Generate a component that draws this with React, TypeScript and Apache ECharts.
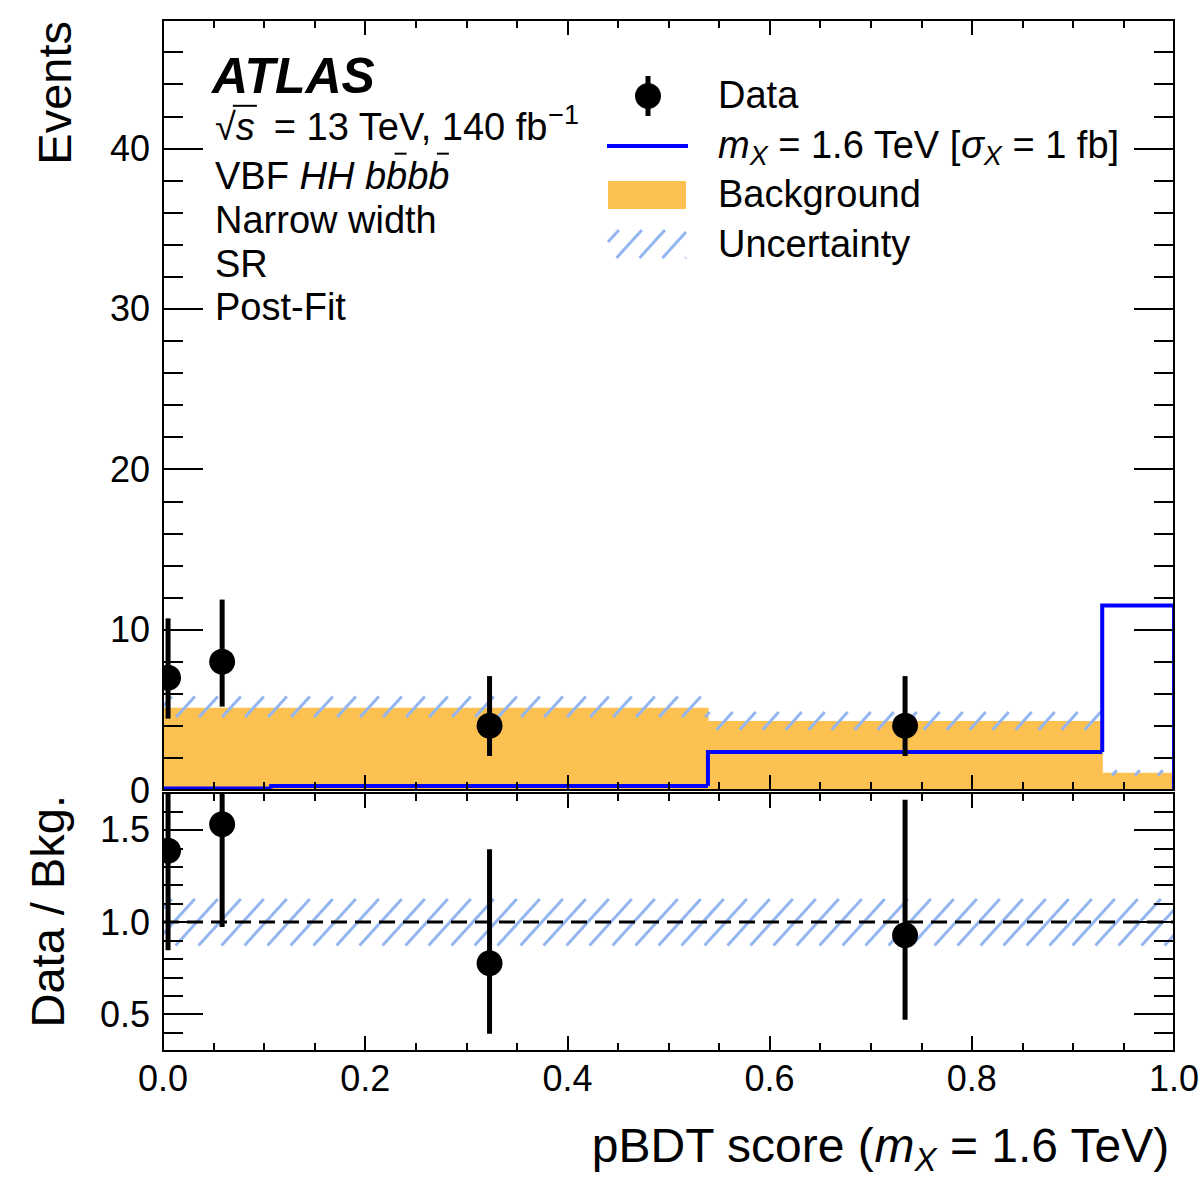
import React, { useEffect, useRef } from "react";
import * as echarts from "echarts";

// ---------------- data ----------------
const binEdges = [0, 0.01, 0.107, 0.539, 0.929, 1.0];
const background = [5.13, 5.13, 5.13, 4.3, 1.07];
const bkgUncUp = [5.83, 5.83, 5.83, 4.86, 1.23];
const bkgUncDown = [4.55, 4.55, 4.55, 3.76, 0.9];
const signal = [0.1, 0.1, 0.25, 2.37, 11.5];

const dataX = [0.005, 0.0585, 0.323, 0.734];
const dataY = [7, 8, 4, 4];
const dataErrUp = [10.7, 11.87, 7.1, 7.1];
const dataErrDown = [4.45, 5.2, 2.12, 2.12];

const ratioY = [1.386, 1.53, 0.776, 0.928];
const ratioErrUp = [2.09, 2.31, 1.395, 1.664];
const ratioErrDown = [0.847, 0.973, 0.393, 0.47];
const ratioUncUp = [1.125, 1.125, 1.125, 1.125, 1.125];
const ratioUncDown = [0.873, 0.873, 0.873, 0.873, 0.873];
const ratioRef = 1.0;

const xMajorTicks = [0, 0.2, 0.4, 0.6, 0.8, 1.0];
const xMinorTicks = [0.05, 0.1, 0.15, 0.25, 0.3, 0.35, 0.45, 0.5, 0.55, 0.65, 0.7, 0.75, 0.85, 0.9, 0.95];
const yMainMajor = [0, 10, 20, 30, 40];
const yMainMinor = [2, 4, 6, 8, 12, 14, 16, 18, 22, 24, 26, 28, 32, 34, 36, 38, 42, 44, 46];
const yRatioMajor = [0.5, 1.0, 1.5];
const yRatioMinor = [0.4, 0.6, 0.7, 0.8, 0.9, 1.1, 1.2, 1.3, 1.4, 1.6];

// ---------------- style ----------------
const FONT = "Liberation Sans";
const ORANGE = "#FDC151";
const HATCH = "#94B6F0";
const BLUE = "#0000FF";
const HATCH_SPACING = 23;
const HATCH_SLOPE = 1.1;
const TICK_FONT = 36;

let measureCtx: CanvasRenderingContext2D | null = null;
function fontStr(size: number, italic?: boolean, bold?: boolean) {
  return `${italic ? "italic " : ""}${bold ? "bold " : ""}${size}px "${FONT}"`;
}
function tw(t: string, size: number, italic?: boolean, bold?: boolean) {
  if (!measureCtx) measureCtx = document.createElement("canvas").getContext("2d");
  measureCtx!.font = fontStr(size, italic, bold);
  return measureCtx!.measureText(t).width;
}

type Piece = { t: string; size: number; italic?: boolean; bold?: boolean; dy?: number; over?: "full" | "bar" };

function textRun(x: number, baseline: number, pieces: Piece[], align: "left" | "right" = "left") {
  const widths = pieces.map((p) => tw(p.t, p.size, p.italic, p.bold));
  const total = widths.reduce((a, b) => a + b, 0);
  let cx = align === "right" ? x - total : x;
  const els: any[] = [];
  pieces.forEach((p, i) => {
    const b = baseline + (p.dy || 0);
    els.push({
      type: "text",
      x: cx,
      y: b - 0.347 * p.size,
      silent: true,
      style: {
        text: p.t,
        font: fontStr(p.size, p.italic, p.bold),
        fill: "#000",
        align: "left",
        verticalAlign: "middle",
        textAlign: "left",
        textVerticalAlign: "middle",
      },
    });
    if (p.over === "full") {
      const yy = b - 0.9 * p.size;
      els.push({ type: "line", silent: true, shape: { x1: cx - 3, y1: yy, x2: cx + widths[i] + 2, y2: yy }, style: { stroke: "#000", lineWidth: 2 } });
    } else if (p.over === "bar") {
      const yy = b - 0.93 * p.size;
      const mid = cx + widths[i] / 2 + 4;
      els.push({ type: "line", silent: true, shape: { x1: mid - 6, y1: yy, x2: mid + 6, y2: yy }, style: { stroke: "#000", lineWidth: 2 } });
    }
    cx += widths[i];
  });
  return els;
}

function hatchLines(X0: number, X1: number, Y0: number, Y1: number) {
  const t = HATCH_SLOPE;
  const s = HATCH_SPACING;
  const children: any[] = [];
  const cStart = Math.ceil((X0 + Y0 / t) / s) * s;
  const cEnd = X1 + Y1 / t;
  for (let c = cStart; c <= cEnd; c += s) {
    const ya = Math.max(Y0, t * (c - X1));
    const yb = Math.min(Y1, t * (c - X0));
    if (yb > ya) {
      children.push({
        type: "line",
        shape: { x1: c - ya / t, y1: ya, x2: c - yb / t, y2: yb },
        style: { stroke: HATCH, lineWidth: 3 },
      });
    }
  }
  return { type: "group", children };
}

// ---------------- axes ----------------
const lineStyle = { color: "#000", width: 2 };

function makeX(gridIndex: number, position: string, ticks: number[], len: number, labels: boolean) {
  return {
    type: "value",
    gridIndex,
    position,
    min: 0,
    max: 1,
    z: 10,
    axisLine: { show: true, onZero: false, lineStyle },
    axisTick: { show: true, inside: true, length: len, customValues: ticks, lineStyle: { color: "#000", width: 2 } },
    axisLabel: labels
      ? {
          show: true,
          customValues: xMajorTicks,
          formatter: (v: number) => v.toFixed(1),
          fontSize: TICK_FONT,
          fontFamily: FONT,
          color: "#000",
          margin: 9,
        }
      : { show: false },
    splitLine: { show: false },
  };
}

function makeY(
  gridIndex: number,
  position: string,
  min: number,
  max: number,
  ticks: number[],
  len: number,
  labels: number[] | null,
  fmt: (v: number) => string
) {
  return {
    type: "value",
    gridIndex,
    position,
    min,
    max,
    z: 10,
    axisLine: { show: true, onZero: false, lineStyle },
    axisTick: { show: true, inside: true, length: len, customValues: ticks, lineStyle: { color: "#000", width: 2 } },
    axisLabel: labels
      ? { show: true, customValues: labels, formatter: fmt, fontSize: TICK_FONT, fontFamily: FONT, color: "#000", margin: 13 }
      : { show: false },
    splitLine: { show: false },
  };
}

function buildOption() {
  const intFmt = (v: number) => String(Math.round(v));
  const oneFmt = (v: number) => v.toFixed(1);

  const xAxis = [
    makeX(0, "bottom", xMajorTicks, 15, false),
    makeX(0, "bottom", xMinorTicks, 8, false),
    makeX(0, "top", xMajorTicks, 15, false),
    makeX(0, "top", xMinorTicks, 8, false),
    makeX(1, "bottom", xMajorTicks, 15, true),
    makeX(1, "bottom", xMinorTicks, 8, false),
    makeX(1, "top", xMajorTicks, 15, false),
    makeX(1, "top", xMinorTicks, 8, false),
  ];
  const yAxis = [
    makeY(0, "left", 0, 48, yMainMajor, 40, yMainMajor, intFmt),
    makeY(0, "left", 0, 48, yMainMinor, 20, null, intFmt),
    makeY(0, "right", 0, 48, yMainMajor, 40, null, intFmt),
    makeY(0, "right", 0, 48, yMainMinor, 20, null, intFmt),
    makeY(1, "left", 0.3, 1.7, yRatioMajor, 40, yRatioMajor, oneFmt),
    makeY(1, "left", 0.3, 1.7, yRatioMinor, 20, null, oneFmt),
    makeY(1, "right", 0.3, 1.7, yRatioMajor, 40, null, oneFmt),
    makeY(1, "right", 0.3, 1.7, yRatioMinor, 20, null, oneFmt),
  ];

  const bgData = background.map((v, i) => [binEdges[i], binEdges[i + 1], v]);
  const uncData = background.map((_, i) => [binEdges[i], binEdges[i + 1], bkgUncDown[i], bkgUncUp[i]]);
  const sigData = signal.map((v, i) => [binEdges[i], binEdges[i + 1], v, i > 0 ? signal[i - 1] : 0, i === signal.length - 1 ? 1 : 0]);
  const ptData = dataX.map((x, i) => [x, dataY[i], dataErrDown[i], dataErrUp[i]]);
  const rUncData = ratioUncUp.map((u, i) => [binEdges[i], binEdges[i + 1], ratioUncDown[i], u]);
  const rPtData = dataX.map((x, i) => [x, ratioY[i], ratioErrDown[i], ratioErrUp[i]]);
  const refData = [[binEdges[0], binEdges[binEdges.length - 1], ratioRef]];

  const pointRender = (params: any, api: any) => {
    const x = api.value(0);
    const c = api.coord([x, api.value(1)]);
    const lo = api.coord([x, api.value(2)]);
    const hi = api.coord([x, api.value(3)]);
    return {
      type: "group",
      children: [
        { type: "line", shape: { x1: c[0], y1: hi[1], x2: c[0], y2: lo[1] }, style: { stroke: "#000", lineWidth: 5 } },
        { type: "circle", shape: { cx: c[0], cy: c[1], r: 13 }, style: { fill: "#000" } },
      ],
    };
  };
  const hatchRender = (params: any, api: any) => {
    const p0 = api.coord([api.value(0), api.value(3)]);
    const p1 = api.coord([api.value(1), api.value(2)]);
    return hatchLines(p0[0], p1[0], p0[1], p1[1]);
  };

  const series: any[] = [
    {
      type: "custom",
      xAxisIndex: 0,
      yAxisIndex: 0,
      clip: true,
      silent: true,
      data: bgData,
      encode: { x: [0, 1], y: [2] },
      renderItem: (params: any, api: any) => {
        const p0 = api.coord([api.value(0), api.value(2)]);
        const p1 = api.coord([api.value(1), 0]);
        return {
          type: "rect",
          shape: { x: p0[0] - 0.6, y: p0[1], width: p1[0] - p0[0] + 1.2, height: p1[1] - p0[1] },
          style: { fill: ORANGE },
        };
      },
    },
    {
      type: "custom",
      xAxisIndex: 0,
      yAxisIndex: 0,
      clip: true,
      silent: true,
      data: uncData,
      encode: { x: [0, 1], y: [2, 3] },
      renderItem: hatchRender,
    },
    {
      type: "custom",
      xAxisIndex: 0,
      yAxisIndex: 0,
      clip: true,
      silent: true,
      data: sigData,
      encode: { x: [0, 1], y: [2, 3] },
      renderItem: (params: any, api: any) => {
        const x0 = api.value(0), x1 = api.value(1), v = api.value(2), prev = api.value(3), last = api.value(4);
        const pts = [api.coord([x0, prev]), api.coord([x0, v]), api.coord([x1, v])];
        if (last) pts.push(api.coord([x1, 0]));
        return {
          type: "polyline",
          shape: { points: pts },
          style: { stroke: BLUE, lineWidth: 4, fill: "none", lineJoin: "miter" },
        };
      },
    },
    {
      type: "custom",
      xAxisIndex: 0,
      yAxisIndex: 0,
      clip: true,
      silent: true,
      data: ptData,
      encode: { x: [0], y: [1, 2, 3] },
      renderItem: pointRender,
    },
    // ratio panel
    {
      type: "custom",
      xAxisIndex: 4,
      yAxisIndex: 4,
      clip: true,
      silent: true,
      data: rUncData,
      encode: { x: [0, 1], y: [2, 3] },
      renderItem: hatchRender,
    },
    {
      type: "custom",
      xAxisIndex: 4,
      yAxisIndex: 4,
      clip: true,
      silent: true,
      data: refData,
      encode: { x: [0, 1], y: [2] },
      renderItem: (params: any, api: any) => {
        const a = api.coord([api.value(0), api.value(2)]);
        const b = api.coord([api.value(1), api.value(2)]);
        return {
          type: "line",
          shape: { x1: a[0], y1: a[1], x2: b[0], y2: b[1] },
          style: { stroke: "#000", lineWidth: 3, lineDash: [16, 8] },
        };
      },
    },
    {
      type: "custom",
      xAxisIndex: 4,
      yAxisIndex: 4,
      clip: true,
      silent: true,
      data: rPtData,
      encode: { x: [0], y: [1, 2, 3] },
      renderItem: pointRender,
    },
  ];

  // ---------------- annotations ----------------
  const S = 38;
  const SS = 27;
  const g: any[] = [];
  g.push(...textRun(212, 93, [{ t: "ATLAS", size: 50, italic: true, bold: true }]));
  g.push(
    ...textRun(215, 140, [
      { t: "√", size: S },
      { t: "s", size: S, italic: true, over: "full" },
      { t: "\u2002= 13 TeV, 140 fb", size: S },
      { t: "−1", size: SS, dy: -16 },
    ])
  );
  g.push(
    ...textRun(215, 189, [
      { t: "VBF ", size: S },
      { t: "HH b", size: S, italic: true },
      { t: "b", size: S, italic: true, over: "bar" },
      { t: "b", size: S, italic: true },
      { t: "b", size: S, italic: true, over: "bar" },
    ])
  );
  g.push(...textRun(215, 233, [{ t: "Narrow width", size: S }]));
  g.push(...textRun(215, 277, [{ t: "SR", size: S }]));
  g.push(...textRun(215, 320, [{ t: "Post-Fit", size: S }]));

  // legend
  g.push({ type: "line", silent: true, shape: { x1: 648, y1: 76, x2: 648, y2: 116 }, style: { stroke: "#000", lineWidth: 5 } });
  g.push({ type: "circle", silent: true, shape: { cx: 648, cy: 96, r: 13 }, style: { fill: "#000" } });
  g.push({ type: "line", silent: true, shape: { x1: 607, y1: 146, x2: 688, y2: 146 }, style: { stroke: BLUE, lineWidth: 4 } });
  g.push({ type: "rect", silent: true, shape: { x: 608, y: 181, width: 78, height: 28 }, style: { fill: ORANGE } });
  g.push({ ...hatchLines(608, 686, 230, 258), silent: true });
  g.push(...textRun(718, 108, [{ t: "Data", size: S }]));
  g.push(
    ...textRun(718, 158, [
      { t: "m", size: S, italic: true },
      { t: "X", size: SS, italic: true, dy: 7 },
      { t: " = 1.6 TeV [", size: S },
      { t: "σ", size: S, italic: true },
      { t: "X", size: SS, italic: true, dy: 7 },
      { t: " = 1 fb]", size: S },
    ])
  );
  g.push(...textRun(718, 207, [{ t: "Background", size: S }]));
  g.push(...textRun(718, 257, [{ t: "Uncertainty", size: S }]));

  // axis titles
  const TS = 48;
  const YS = 47;
  g.push(
    ...textRun(
      1170,
      1162,
      [
        { t: "pBDT score (", size: TS },
        { t: "m", size: TS, italic: true },
        { t: "X", size: 33, italic: true, dy: 9 },
        { t: " = 1.6 TeV)", size: TS },
      ],
      "right"
    )
  );
  g.push({
    type: "text",
    x: 54,
    y: 21,
    rotation: Math.PI / 2,
    silent: true,
    style: { text: "Events", font: fontStr(YS), fill: "#000", align: "right", verticalAlign: "middle", textAlign: "right", textVerticalAlign: "middle" },
  });
  g.push({
    type: "text",
    x: 47,
    y: 795,
    rotation: Math.PI / 2,
    silent: true,
    style: { text: "Data / Bkg.", font: fontStr(YS), fill: "#000", align: "right", verticalAlign: "middle", textAlign: "right", textVerticalAlign: "middle" },
  });

  return {
    animation: false,
    backgroundColor: "#fff",
    grid: [
      { left: 163, top: 20, width: 1011, height: 770, containLabel: false, outerBoundsMode: "none" },
      { left: 163, top: 793, width: 1011, height: 258, containLabel: false, outerBoundsMode: "none" },
    ],
    xAxis,
    yAxis,
    series,
    graphic: { elements: g },
  };
}

export default function App() {
  const ref = useRef<HTMLDivElement>(null);
  useEffect(() => {
    if (!ref.current) return;
    const chart = echarts.init(ref.current, undefined, { renderer: "svg" });
    chart.setOption(buildOption() as any);
    return () => chart.dispose();
  }, []);
  return (
    <div
      ref={ref}
      style={{ position: "absolute", left: 0, top: 0, width: 1204, height: 1182, background: "#fff" }}
    />
  );
}
